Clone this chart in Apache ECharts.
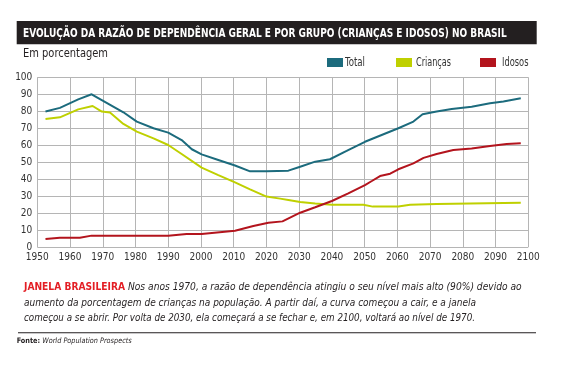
<!DOCTYPE html>
<html><head><meta charset="utf-8">
<script src="https://cdn.jsdelivr.net/npm/echarts@6/dist/echarts.min.js"></script>
<style>html,body{margin:0;padding:0;background:#fff}#c{width:563px;height:372px}</style>
</head><body><div id="c"></div>
<script>
const titleText = "EVOLUÇÃO DA RAZÃO DE DEPENDÊNCIA GERAL E POR GRUPO (CRIANÇAS E IDOSOS) NO BRASIL";
const subtitleText = "Em porcentagem";
const seriesNames = ["Total", "Crianças", "Idosos"];
const seriesColors = ["#1c6b7d", "#bfd000", "#b3141d"];

const totalYears = [1952.5,1956.9,1962.5,1966.6,1976.3,1980.4,1985.5,1990,1994.1,1997.2,2000.2,2005.3,2010.4,2015,2020,2026.7,2030.3,2034.9,2039.4,2044.5,2050.1,2055.2,2060.3,2064.9,2067.7,2072,2076.6,2082.7,2088.3,2092.4,2097.7];
const totalValues = [79.8,82,87,90,79.4,73.9,70,67.4,63,57.6,54.6,51.3,48,44.6,44.6,45,47.3,50.3,51.7,56.6,62,66,70,73.9,78.2,79.8,81.3,82.7,84.7,85.7,87.6];

const criancasYears = [1952.5,1956.9,1962.5,1966.9,1969.7,1972.2,1976.3,1980.4,1985.5,1990,1994.1,2000.2,2005.3,2010.4,2015,2020,2024.2,2026.7,2030.3,2034.9,2040,2049.6,2052.5,2060.3,2063.9,2072,2082.2,2097.7];
const criancasValues = [75.4,76.4,81.1,83.1,79.8,79.2,72.5,68,64,60.1,54.8,46.8,42.4,38.1,34,29.7,28.5,27.7,26.5,25.7,24.9,24.9,23.8,23.8,24.9,25.3,25.7,26.1];

const idososYears = [1952.5,1956.9,1963,1966.6,1990,1995.6,2000.2,2010.4,2016,2020.6,2024.9,2030.3,2034.9,2040,2045,2050.1,2052.2,2054.7,2057.8,2060.3,2064.9,2068,2072,2077.1,2082.7,2088.3,2093.4,2097.7];
const idososValues = [4.7,5.5,5.5,6.7,6.7,7.7,7.7,9.6,12.4,14.3,15.1,20.2,23.4,27.1,31.6,36.5,38.9,41.8,43.2,45.8,49.3,52.5,54.8,57.2,58,59.5,60.7,61.1];

const noteLead = "JANELA BRASILEIRA";
const noteLines = [
  " Nos anos 1970, a razão de dependência atingiu o seu nível mais alto (90%) devido ao",
  "aumento da porcentagem de crianças na população. A partir daí, a curva começou a cair, e a janela",
  "começou a se abrir. Por volta de 2030, ela começará a se fechar e, em 2100, voltará ao nível de 1970."
];
const sourceLabel = "Fonte:";
const sourceText = " World Population Prospects";

// pick an installed narrow family if any
const ctx = document.createElement('canvas').getContext('2d');
function measure(text, font) { ctx.font = font; return ctx.measureText(text).width; }
function has(f) {
  const s = "abcdefghijklmnopqrstuvwxyz0123456789";
  return measure(s, "20px '" + f + "', monospace") !== measure(s, "20px monospace");
}
const candidates = ['Liberation Sans Narrow', 'DejaVu Sans Condensed', 'Roboto Condensed', 'Open Sans Condensed', 'Liberation Sans'];
let base = 'sans-serif';
for (const c of candidates) { if (has(c)) { base = "'" + c + "'"; break; } }
const FN = base + ", sans-serif";

function fitText(text, font, x, y, targetW, fill) {
  const w = measure(text, font);
  return {type:'text', x:x, y:y, scaleX: targetW / w, silent:true,
    style:{text:text, font:font, fill:fill, x:0, y:0, verticalAlign:'middle', align:'left'}};
}

const zip = (xs, ys) => xs.map((x, i) => [x, ys[i]]);
const chart = echarts.init(document.getElementById('c'));

const legendX = [327, 396, 480];
const legendTextX = [345, 416, 502];
const legendTextW = [20, 35, 26.5];
const legendItems = [];
seriesNames.forEach((n, i) => {
  legendItems.push({type:'rect', x:legendX[i], y:58, shape:{width:16, height:9}, style:{fill:seriesColors[i]}});
  legendItems.push(fitText(n, "11.5px " + FN, legendTextX[i], 63, legendTextW[i], '#333'));
});

const titleFont = "bold 12.5px " + FN;
const noteBold = "bold 10.5px " + FN;
const noteIt = "italic 10.5px " + FN;
const srcB = "bold 7.5px " + FN;
const srcI = "italic 7.5px " + FN;

const line1W = measure(noteLead, noteBold) + measure(noteLines[0], noteIt);
const srcW = measure(sourceLabel, srcB) + measure(sourceText, srcI);

chart.setOption({
  animation:false,
  grid:{left:37.3, right:34.7, top:77.3, bottom:125},
  xAxis:{type:'value', min:1950, max:2100, interval:10,
    axisLine:{show:false}, axisTick:{show:false},
    splitLine:{show:true, lineStyle:{color:'#b5b5b5', width:1}},
    axisLabel:{fontFamily:FN, fontSize:10, color:'#333', margin:5, formatter:v => String(v)}},
  yAxis:{type:'value', min:0, max:100, interval:10,
    axisLine:{show:false}, axisTick:{show:false},
    splitLine:{show:true, lineStyle:{color:'#b5b5b5', width:1}},
    axisLabel:{fontFamily:FN, fontSize:10, color:'#333', margin:5}},
  series:[
    {name:seriesNames[0], type:'line', data:zip(totalYears,totalValues), symbol:'none', lineStyle:{color:seriesColors[0], width:2}},
    {name:seriesNames[1], type:'line', data:zip(criancasYears,criancasValues), symbol:'none', lineStyle:{color:seriesColors[1], width:2}},
    {name:seriesNames[2], type:'line', data:zip(idososYears,idososValues), symbol:'none', lineStyle:{color:seriesColors[2], width:2}}
  ],
  graphic:[
    {type:'rect', x:16.7, y:21, shape:{width:520, height:23.3}, style:{fill:'#231f20'}},
    fitText(titleText, titleFont, 23, 33.5, 483.7, '#fff'),
    fitText(subtitleText, "12.5px " + FN, 23, 54, 85, '#231f20'),
    ...legendItems,
    {type:'text', x:24, y:287.5, scaleX: (521.7 - 24) / line1W, silent:true, style:{
      x:0, y:0, verticalAlign:'middle',
      rich:{r:{font:noteBold, fill:'#e31e24', verticalAlign:'middle'}, t:{font:noteIt, fill:'#231f20', verticalAlign:'middle'}},
      text:"{r|" + noteLead + "}{t|" + noteLines[0] + "}"}},
    fitText(noteLines[1], noteIt, 24, 303, 452, '#231f20'),
    fitText(noteLines[2], noteIt, 24, 318, 451, '#231f20'),
    {type:'rect', x:18, y:332.2, shape:{width:518, height:1}, style:{fill:'#231f20'}},
    {type:'text', x:16.7, y:341, scaleX: (131.7 - 16.7) / srcW, silent:true, style:{
      x:0, y:0, verticalAlign:'middle',
      rich:{b:{font:srcB, fill:'#231f20'}, i:{font:srcI, fill:'#231f20'}},
      text:"{b|" + sourceLabel + "}{i|" + sourceText + "}"}}
  ]
});
</script></body></html>
